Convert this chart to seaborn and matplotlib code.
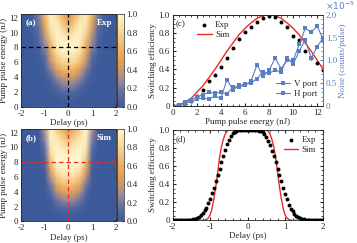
import numpy as np
import matplotlib
matplotlib.use('Agg')
import matplotlib.pyplot as plt
import seaborn as sns
from matplotlib.colors import LinearSegmentedColormap
from matplotlib.ticker import MultipleLocator, FixedLocator, FixedFormatter

# ---- heat maps (a) Exp, (b) Sim: rows = pump energy, cols = delay
delay_grid = [-2, -1.75, -1.5, -1.25, -1, -0.75, -0.5, -0.25, 0,
              0.25, 0.5, 0.75, 1, 1.25, 1.5, 1.75, 2]
energy_grid = [0, 1, 2, 3, 4, 5, 6, 7, 8, 9, 10, 11, 12, 12.5]

exp_map = [
    [0, 0, 0, 0, 0, 0, 0, 0, 0, 0, 0, 0, 0, 0, 0, 0, 0],
    [0, 0, 0, 0, 0, 0, 0.005, 0.015, 0.02, 0.015, 0.005, 0, 0, 0, 0, 0, 0],
    [0, 0, 0, 0, 0, 0.01, 0.04, 0.09, 0.11, 0.09, 0.04, 0.01, 0, 0, 0, 0, 0],
    [0, 0, 0, 0, 0.01, 0.04, 0.14, 0.24, 0.27, 0.24, 0.14, 0.04, 0.01, 0, 0, 0, 0],
    [0, 0, 0, 0, 0.02, 0.10, 0.28, 0.40, 0.43, 0.40, 0.28, 0.10, 0.02, 0, 0, 0, 0],
    [0, 0, 0, 0.005, 0.05, 0.22, 0.46, 0.60, 0.63, 0.60, 0.46, 0.22, 0.05, 0.005, 0, 0, 0],
    [0, 0, 0, 0.01, 0.09, 0.36, 0.66, 0.79, 0.81, 0.79, 0.66, 0.36, 0.09, 0.01, 0, 0, 0],
    [0, 0, 0, 0.02, 0.15, 0.48, 0.80, 0.91, 0.92, 0.91, 0.80, 0.48, 0.15, 0.02, 0, 0, 0],
    [0, 0, 0.01, 0.06, 0.24, 0.58, 0.90, 1.00, 1.00, 1.00, 0.90, 0.58, 0.24, 0.06, 0.01, 0, 0],
    [0, 0, 0.01, 0.09, 0.32, 0.70, 0.97, 0.98, 0.92, 0.98, 0.96, 0.68, 0.30, 0.08, 0.01, 0, 0],
    [0, 0, 0.02, 0.13, 0.42, 0.82, 0.98, 0.90, 0.77, 0.90, 0.97, 0.80, 0.40, 0.12, 0.02, 0, 0],
    [0, 0, 0.03, 0.17, 0.52, 0.90, 0.95, 0.78, 0.60, 0.78, 0.94, 0.88, 0.50, 0.16, 0.03, 0, 0],
    [0, 0, 0.04, 0.22, 0.62, 0.95, 0.88, 0.66, 0.47, 0.66, 0.88, 0.93, 0.60, 0.20, 0.04, 0, 0],
    [0, 0, 0.05, 0.25, 0.66, 0.96, 0.84, 0.58, 0.39, 0.58, 0.84, 0.94, 0.64, 0.22, 0.05, 0, 0],
]

sim_map = [
    [0, 0, 0, 0, 0, 0, 0, 0, 0, 0, 0, 0, 0, 0, 0, 0, 0],
    [0, 0, 0, 0, 0, 0, 0.01, 0.03, 0.04, 0.03, 0.01, 0, 0, 0, 0, 0, 0],
    [0, 0, 0, 0, 0, 0.01, 0.07, 0.13, 0.15, 0.13, 0.07, 0.01, 0, 0, 0, 0, 0],
    [0, 0, 0, 0, 0, 0.04, 0.18, 0.28, 0.31, 0.28, 0.18, 0.04, 0, 0, 0, 0, 0],
    [0, 0, 0, 0, 0.005, 0.10, 0.34, 0.47, 0.50, 0.47, 0.34, 0.10, 0.005, 0, 0, 0, 0],
    [0, 0, 0, 0, 0.01, 0.20, 0.53, 0.67, 0.69, 0.67, 0.53, 0.20, 0.01, 0, 0, 0, 0],
    [0, 0, 0, 0, 0.02, 0.35, 0.72, 0.84, 0.85, 0.84, 0.72, 0.35, 0.02, 0, 0, 0, 0],
    [0, 0, 0, 0, 0.04, 0.50, 0.88, 0.96, 0.96, 0.96, 0.88, 0.50, 0.04, 0, 0, 0, 0],
    [0, 0, 0, 0, 0.06, 0.66, 1.00, 1.00, 1.00, 1.00, 1.00, 0.66, 0.06, 0, 0, 0, 0],
    [0, 0, 0, 0, 0.10, 0.80, 1.00, 0.99, 0.96, 0.99, 1.00, 0.80, 0.10, 0, 0, 0, 0],
    [0, 0, 0, 0, 0.16, 0.90, 0.98, 0.93, 0.85, 0.93, 0.98, 0.90, 0.16, 0, 0, 0, 0],
    [0, 0, 0, 0.005, 0.24, 0.96, 0.92, 0.82, 0.69, 0.82, 0.92, 0.96, 0.24, 0.005, 0, 0, 0],
    [0, 0, 0, 0.01, 0.32, 0.99, 0.84, 0.68, 0.50, 0.68, 0.84, 0.99, 0.32, 0.01, 0, 0, 0],
    [0, 0, 0, 0.01, 0.36, 1.00, 0.80, 0.60, 0.40, 0.60, 0.80, 1.00, 0.36, 0.01, 0, 0, 0],
]

# ---- panel (c): efficiency and noise vs pump energy
energy_c = [0, 0.5, 1, 1.5, 2, 2.5, 3, 3.5, 4, 4.5, 5, 5.5, 6, 6.5, 7, 7.5,
            8, 8.5, 9, 9.5, 10, 10.5, 11, 11.5, 12, 12.5]
exp_c = [0.0, 0.01, 0.02, 0.05, 0.11, 0.18, 0.27, 0.34, 0.43, 0.53, 0.63, 0.73,
         0.81, 0.87, 0.92, 0.96, 0.99, 0.97, 0.92, 0.87, 0.77, 0.72, 0.60, 0.53,
         0.47, 0.39]
sim_c = [0.0, 0.01, 0.04, 0.08, 0.15, 0.22, 0.31, 0.40, 0.50, 0.60, 0.69, 0.78,
         0.85, 0.91, 0.96, 0.99, 1.0, 0.99, 0.96, 0.91, 0.85, 0.78, 0.69, 0.60,
         0.50, 0.40]
noise_v = [0.0, 0.02, 0.05, 0.10, 0.15, 0.18, 0.15, 0.22, 0.17, 0.58, 0.35, 0.45,
           0.48, 0.50, 0.60, 0.75, 0.72, 0.78, 0.75, 1.05, 0.92, 1.20, 1.45, 1.05,
           1.30, 1.50]
noise_h = [0.0, 0.03, 0.08, 0.13, 0.20, 0.25, 0.30, 0.28, 0.30, 0.26, 0.42, 0.42,
           0.45, 0.55, 0.90, 0.65, 0.78, 1.05, 0.82, 1.00, 1.00, 1.35, 1.70, 1.62,
           1.75, 1.45]

# ---- panel (d): efficiency vs delay at 8 nJ
delay_d = [-2.0, -1.95, -1.9, -1.85, -1.8, -1.75, -1.7, -1.65, -1.6, -1.55,
           -1.5, -1.45, -1.4, -1.35, -1.3, -1.25, -1.2, -1.15, -1.1, -1.05,
           -1.0, -0.95, -0.9, -0.85, -0.8, -0.75, -0.7, -0.65, -0.6, -0.55,
           -0.5, -0.45, -0.4, -0.35, -0.3, -0.25, -0.2, -0.15, -0.1, -0.05,
           0.0, 0.05, 0.1, 0.15, 0.2, 0.25, 0.3, 0.35, 0.4, 0.45,
           0.5, 0.55, 0.6, 0.65, 0.7, 0.75, 0.8, 0.85, 0.9, 0.95,
           1.0, 1.05, 1.1, 1.15, 1.2, 1.25, 1.3, 1.35, 1.4, 1.45,
           1.5, 1.55, 1.6, 1.65, 1.7, 1.75, 1.8, 1.85, 1.9, 1.95, 2.0]
exp_d = [0, 0, 0, 0, 0, 0, 0, 0.002, 0.003, 0.005,
         0.008, 0.012, 0.018, 0.027, 0.04, 0.06, 0.08, 0.11, 0.14, 0.19,
         0.24, 0.30, 0.36, 0.43, 0.50, 0.57, 0.64, 0.71, 0.78, 0.84,
         0.89, 0.93, 0.96, 0.98, 0.99, 0.995, 1.0, 1.0, 1.0, 1.0,
         1.0, 1.0, 1.0, 1.0, 1.0, 0.995, 0.99, 0.985, 0.97, 0.95,
         0.92, 0.88, 0.83, 0.77, 0.71, 0.64, 0.57, 0.50, 0.43, 0.36,
         0.29, 0.23, 0.17, 0.13, 0.10, 0.07, 0.05, 0.035, 0.025, 0.017,
         0.011, 0.007, 0.004, 0.002, 0.001, 0, 0, 0, 0, 0, 0]
sim_d = [0, 0, 0, 0, 0, 0, 0, 0, 0, 0,
         0, 0, 0, 0, 0, 0, 0, 0.003, 0.01, 0.025,
         0.06, 0.13, 0.24, 0.37, 0.53, 0.69, 0.81, 0.89, 0.95, 0.98,
         1.0, 1.0, 1.0, 1.0, 1.0, 1.0, 1.0, 1.0, 1.0, 1.0,
         1.0, 1.0, 1.0, 1.0, 1.0, 1.0, 1.0, 1.0, 1.0, 1.0,
         1.0, 0.98, 0.95, 0.89, 0.81, 0.69, 0.53, 0.37, 0.24, 0.13,
         0.06, 0.025, 0.01, 0.003, 0, 0, 0, 0, 0, 0,
         0, 0, 0, 0, 0, 0, 0, 0, 0, 0, 0]

blue = '#5a7ec0'
red = '#ec2a2a'

sns.set_style('ticks')
plt.rcParams['font.family'] = ['Liberation Serif', 'DejaVu Serif']
plt.rcParams['font.size'] = 6.5
plt.rcParams['axes.unicode_minus'] = False
plt.rcParams['xtick.direction'] = 'in'
plt.rcParams['ytick.direction'] = 'in'
plt.rcParams['axes.linewidth'] = 0.6
plt.rcParams['xtick.major.size'] = 2.5
plt.rcParams['ytick.major.size'] = 2.5
plt.rcParams['xtick.minor.size'] = 1.3
plt.rcParams['ytick.minor.size'] = 1.3
plt.rcParams['xtick.major.pad'] = 2
plt.rcParams['ytick.major.pad'] = 2
plt.rcParams['axes.labelpad'] = 1

cmap = LinearSegmentedColormap.from_list('m10', [
    (0.0, '#3c5a9a'), (0.15, '#5d6fa4'), (0.3, '#a08c98'),
    (0.45, '#dc9c58'), (0.6, '#eeae5c'), (0.8, '#f8d494'), (1.0, '#fff6cc')])

fig = plt.figure(figsize=(3.57, 2.43), dpi=100)
ax_a = fig.add_axes([0.0588, 0.5597, 0.2653, 0.3827])
cax_a = fig.add_axes([0.329, 0.5597, 0.018, 0.3827])
ax_b = fig.add_axes([0.0588, 0.0885, 0.2653, 0.3807])
cax_b = fig.add_axes([0.329, 0.0885, 0.018, 0.3807])
ax_c = fig.add_axes([0.4838, 0.5638, 0.4218, 0.3757])
ax_d = fig.add_axes([0.4838, 0.0934, 0.4196, 0.3729])


def draw_map(ax, cax, grid, tag, name, line_col):
    mesh = ax.pcolormesh(delay_grid, energy_grid, np.array(grid), cmap=cmap,
                         vmin=0, vmax=1, shading='gouraud')
    ax.axvline(0, color=line_col, ls=(0, (3.5, 2.5)), lw=0.9)
    ax.axhline(8, color=line_col, ls=(0, (3.5, 2.5)), lw=0.9)
    ax.set_xlim(-2, 2)
    ax.set_ylim(0, 12.5)
    ax.set_xticks([-2, -1, 0, 1, 2])
    ax.set_yticks([0, 2, 4, 6, 8, 10, 12])
    ax.tick_params(top=True, right=True, length=2)
    ax.set_xlabel('Delay (ps)')
    ax.set_ylabel('Pump pulse energy (nJ)')
    ax.text(0.05, 0.9, tag, transform=ax.transAxes, color='white',
            fontsize=6.5, fontweight='bold', va='center')
    ax.text(0.96, 0.9, name, transform=ax.transAxes, color='white',
            fontsize=6.5, fontweight='bold', va='center', ha='right')
    cb = fig.colorbar(mesh, cax=cax)
    cb.set_ticks([0, 0.2, 0.4, 0.6, 0.8, 1.0])
    cb.ax.set_yticklabels(['0.0', '0.2', '0.4', '0.6', '0.8', '1.0'])
    cb.ax.tick_params(length=1.5, pad=2)
    cb.outline.set_linewidth(0.5)


draw_map(ax_a, cax_a, exp_map, '(a)', 'Exp', 'black')
draw_map(ax_b, cax_b, sim_map, '(b)', 'Sim', red)

# (c)
sns.scatterplot(x=energy_c, y=exp_c, ax=ax_c, color='black', s=8,
                linewidth=0, label='Exp', zorder=3)
sns.lineplot(x=energy_c, y=sim_c, ax=ax_c, color=red, lw=1.0,
             label='Sim', errorbar=None)
ax_c.set_xlim(0, 12.5)
ax_c.set_ylim(0, 1.0)
ax_c.set_xticks([0, 2, 4, 6, 8, 10, 12])
ax_c.xaxis.set_minor_locator(MultipleLocator(0.5))
ax_c.yaxis.set_major_locator(FixedLocator([0, 0.2, 0.4, 0.6, 0.8, 1.0]))
ax_c.yaxis.set_major_formatter(FixedFormatter(['0', '0.2', '0.4', '0.6', '0.8', '1.0']))
ax_c.yaxis.set_minor_locator(MultipleLocator(0.05))
ax_c.tick_params(which='both', top=True)
ax_c.set_xlabel('Pump pulse energy (nJ)')
ax_c.set_ylabel('Switching efficiency')
ax_c.text(0.02, 0.87, '(c)', transform=ax_c.transAxes, fontsize=6.5)
ax_c.legend(loc='upper left', bbox_to_anchor=(0.12, 1.0), frameon=False,
            handlelength=1.6, handletextpad=0.4, labelspacing=0.15,
            borderpad=0.2, fontsize=6.5)

ax2 = ax_c.twinx()
sns.lineplot(x=energy_c, y=noise_v, ax=ax2, color=blue, lw=0.8, marker='s',
             markersize=2.2, markeredgewidth=0, label='V port', errorbar=None)
sns.lineplot(x=energy_c, y=noise_h, ax=ax2, color=blue, lw=0.8, marker='s',
             markersize=3, markeredgewidth=0, label='H port', errorbar=None)
ax2.set_ylim(0, 2.0)
ax2.yaxis.set_major_locator(FixedLocator([0, 0.5, 1.0, 1.5, 2.0]))
ax2.yaxis.set_major_formatter(FixedFormatter(['0', '0.5', '1.0', '1.5', '2.0']))
ax2.yaxis.set_minor_locator(MultipleLocator(0.1))
ax2.tick_params(axis='y', which='both', colors=blue, labelcolor=blue)
ax2.spines['right'].set_color(blue)
ax2.set_ylabel('Noise (counts/pulse)', color=blue)
ax2.legend(loc='lower right', bbox_to_anchor=(1.0, 0.02), frameon=False,
           handlelength=1.6, handletextpad=0.4, labelspacing=0.15,
           borderpad=0.2, fontsize=6.5)
fig.text(0.91, 0.975, r'$\times 10^{-5}$', color=blue, fontsize=6.5,
         va='center', ha='left')

# (d)
sns.scatterplot(x=delay_d, y=exp_d, ax=ax_d, color='black', s=8,
                linewidth=0, label='Exp', zorder=3)
sns.lineplot(x=delay_d, y=sim_d, ax=ax_d, color=red, lw=1.0,
             label='Sim', errorbar=None)
ax_d.set_xlim(-2, 2)
ax_d.set_ylim(0, 1.0)
ax_d.set_xticks([-2, -1, 0, 1, 2])
ax_d.xaxis.set_minor_locator(MultipleLocator(0.2))
ax_d.yaxis.set_major_locator(FixedLocator([0, 0.2, 0.4, 0.6, 0.8, 1.0]))
ax_d.yaxis.set_major_formatter(FixedFormatter(['0', '0.2', '0.4', '0.6', '0.8', '1.0']))
ax_d.yaxis.set_minor_locator(MultipleLocator(0.05))
ax_d.tick_params(which='both', top=True, right=True)
ax_d.set_xlabel('Delay (ps)')
ax_d.set_ylabel('Switching efficiency')
ax_d.text(0.02, 0.87, '(d)', transform=ax_d.transAxes, fontsize=6.5)
ax_d.legend(loc='upper right', frameon=False, handlelength=1.6,
            handletextpad=0.4, labelspacing=0.15, borderpad=0.2, fontsize=6.5)

fig.savefig('out.png', dpi=100)
